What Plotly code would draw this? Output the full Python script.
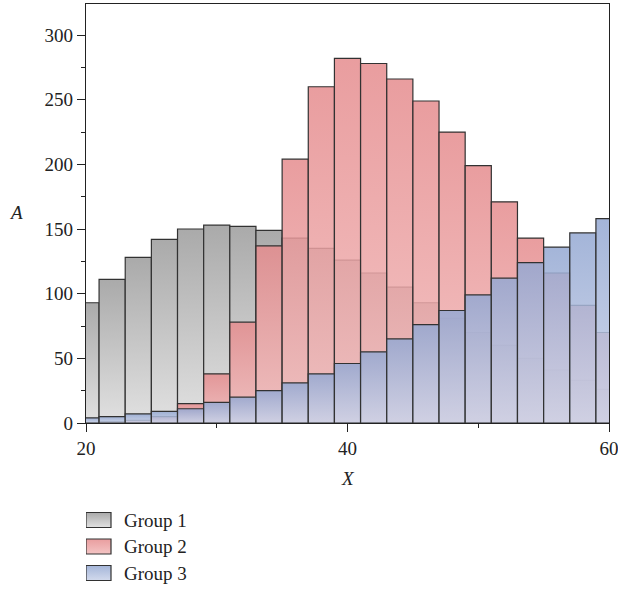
import plotly.graph_objects as go

# ---- data ----
bin_centers = [20, 22, 24, 26, 28, 30, 32, 34, 36, 38, 40, 42, 44, 46, 48, 50, 52, 54, 56, 58, 60]
bin_width = 2
group1 = [93, 111, 128, 142, 150, 153, 152, 149, 143, 135, 126, 116, 105, 93, 81, 70, 60, 50, 41, 33, 26]
group2 = [0, 1, 2, 5, 15, 38, 78, 137, 204, 260, 282, 278, 266, 249, 225, 199, 171, 143, 116, 91, 70]
group3 = [4, 5, 7, 9, 11, 16, 20, 25, 31, 38, 46, 55, 65, 76, 87, 99, 112, 124, 136, 147, 158]
series_names = ["Group 1", "Group 2", "Group 3"]
x_ticks = [20, 40, 60]
x_minor = [30, 50]
y_ticks = [0, 50, 100, 150, 200, 250, 300]
y_minor = [25, 75, 125, 175, 225, 275]

# ---- styles ----
styles = [
    dict(top="rgba(170,170,170,1)", bottom="rgba(225,225,225,1)"),
    dict(top="rgba(229,140,142,0.85)", bottom="rgba(242,186,186,0.85)"),
    dict(top="rgba(148,168,210,0.85)", bottom="rgba(202,211,233,0.85)"),
]
edge = "rgb(50,50,50)"
font_family = "Liberation Serif, Times New Roman, serif"

W, H = 618, 590
ML, MR, MT, MB = 86, 9, 4, 5
plot_bottom_px = 423
paper_h = H - MT - MB
paper_w = W - ML - MR
y_dom0 = (H - MB - plot_bottom_px) / paper_h

fig = go.Figure()
for name, vals, st in zip(series_names, [group1, group2, group3], styles):
    for c, v in zip(bin_centers, vals):
        if v <= 0:
            continue
        x0, x1 = c - bin_width / 2, c + bin_width / 2
        fig.add_trace(go.Scatter(
            x=[x0, x1, x1, x0, x0], y=[0, 0, v, v, 0],
            mode="lines", fill="toself",
            fillgradient=dict(type="vertical", colorscale=[[0, st["bottom"]], [1, st["top"]]]),
            line=dict(color=edge, width=1.2),
            name=name, showlegend=False, hoverinfo="skip",
        ))

# ---- legend (drawn in a small auxiliary axis below the plot, 1 unit = 1 px) ----
leg_left_px, leg_top_px = 86, 505
leg_w, leg_h = 140, H - MB - leg_top_px
patch_w, patch_h, row_gap = 25, 15, 26.5
first_row_center = leg_h - 15   # in legend units (upward)
annotations = []
for k, (name, st) in enumerate(zip(series_names, styles)):
    yc = first_row_center - k * row_gap
    y0, y1 = yc - patch_h / 2, yc + patch_h / 2
    fig.add_trace(go.Scatter(
        x=[0, patch_w, patch_w, 0, 0], y=[y0, y0, y1, y1, y0],
        xaxis="x2", yaxis="y2", mode="lines", fill="toself",
        fillgradient=dict(type="vertical", colorscale=[[0, st["bottom"]], [1, st["top"]]]),
        line=dict(color=edge, width=1.2), showlegend=False, hoverinfo="skip", name=name,
    ))
    annotations.append(dict(text=name, x=36, y=yc, xref="x2", yref="y2",
                            xanchor="left", yanchor="middle", showarrow=False,
                            font=dict(size=19)))

annotations += [
    dict(text="<i>A</i>", x=(16 - ML) / paper_w, y=(H - MB - 212) / paper_h,
         xref="paper", yref="paper", xanchor="center", yanchor="middle",
         showarrow=False, font=dict(size=19)),
    dict(text="<i>X</i>", x=0.5, y=(H - MB - 478) / paper_h,
         xref="paper", yref="paper", xanchor="center", yanchor="middle",
         showarrow=False, font=dict(size=19)),
]

axis_common = dict(ticks="outside", tickcolor="#222", showline=True, linecolor="#222",
                   linewidth=1.3, mirror=True, showgrid=False, zeroline=False,
                   automargin=False)

fig.update_layout(
    width=W, height=H,
    margin=dict(l=ML, r=MR, t=MT, b=MB, autoexpand=False),
    plot_bgcolor="white", paper_bgcolor="white",
    font=dict(family=font_family, size=19, color="#222"),
    showlegend=False,
    xaxis=dict(range=[20, 60], tickvals=x_ticks, ticklen=8, domain=[0, 1],
               ticklabeloverflow="allow",
               minor=dict(tickvals=x_minor, ticks="outside", ticklen=4, tickcolor="#222"),
               **axis_common),
    yaxis=dict(range=[0, 324], tickvals=y_ticks, ticklen=8, domain=[y_dom0, 1],
               minor=dict(tickvals=y_minor, ticks="outside", ticklen=4, tickcolor="#222"),
               **axis_common),
    xaxis2=dict(domain=[(leg_left_px - ML) / paper_w, (leg_left_px - ML + leg_w) / paper_w],
                range=[0, leg_w], visible=False, fixedrange=True),
    yaxis2=dict(domain=[0, leg_h / paper_h], range=[0, leg_h], visible=False, fixedrange=True),
    annotations=annotations,
)

page_fix = (
    "document.documentElement.style.margin='0px';"
    "document.body.style.margin='0px';"
    "document.documentElement.style.overflow='hidden';"
    "document.body.style.overflow='hidden';"
    "document.documentElement.style.height='590px';"
    "document.body.style.height='590px';"
)
fig.write_html("out.html", post_script=page_fix, config={"displayModeBar": False})
